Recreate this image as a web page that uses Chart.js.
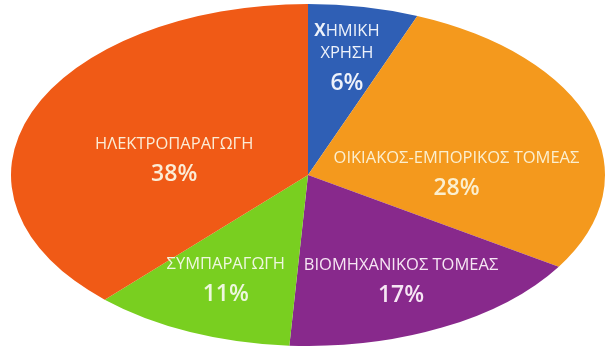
<!DOCTYPE html>
<html>
<head>
<meta charset="utf-8">
<script src="https://cdn.jsdelivr.net/npm/chart.js@4"></script>
<style>
  body { margin: 0; background: #fff; }
  #wrap { width: 608px; height: 351px; position: relative; }
</style>
</head>
<body>
<div id="wrap"><canvas id="pie"></canvas></div>
<script>
// sectors, clockwise from 12 o'clock
const categories = ['ΧΗΜΙΚΗ ΧΡΗΣΗ', 'ΟΙΚΙΑΚΟΣ-ΕΜΠΟΡΙΚΟΣ ΤΟΜΕΑΣ', 'ΒΙΟΜΗΧΑΝΙΚΟΣ ΤΟΜΕΑΣ', 'ΣΥΜΠΑΡΑΓΩΓΗ', 'ΗΛΕΚΤΡΟΠΑΡΑΓΩΓΗ'];
const shares = [6, 28, 17, 11, 38];
const nameLines = [['ΧΗΜΙΚΗ', 'ΧΡΗΣΗ'], ['ΟΙΚΙΑΚΟΣ-ΕΜΠΟΡΙΚΟΣ ΤΟΜΕΑΣ'], ['ΒΙΟΜΗΧΑΝΙΚΟΣ ΤΟΜΕΑΣ'], ['ΣΥΜΠΑΡΑΓΩΓΗ'], ['ΗΛΕΚΤΡΟΠΑΡΑΓΩΓΗ']];

const colors = ['#2f5fb5', '#f4991d', '#88298c', '#79cf20', '#f05a16'];
const textColors = ['#eef2fa', '#fbefcf', '#f6e6f4', '#eef7df', '#fbecd6'];
// where each label block sits: fraction of radius, angle shift (deg) from mid-sector
const labelPlace = [[0.70, 0], [0.50, 17], [0.69, 0], [0.67, 1], [0.46, -10]];

const stretch = 297 / 171; // pie is drawn as a flattened ellipse
const nameFont = '400 16.5px "Open Sans"';
const pctFont = '600 23px "Open Sans"';

const ellipse = {
  id: 'ellipse',
  beforeDatasetsDraw(chart) {
    const a = chart.getDatasetMeta(0).data[0];
    const ctx = chart.ctx;
    ctx.save();
    ctx.translate(a.x, a.y);
    ctx.scale(stretch, 1);
    ctx.translate(-a.x, -a.y);
  },
  afterDatasetsDraw(chart) {
    chart.ctx.restore();
  }
};

const sectorLabels = {
  id: 'sectorLabels',
  afterDraw(chart) {
    const ctx = chart.ctx;
    const arcs = chart.getDatasetMeta(0).data;
    ctx.save();
    ctx.textAlign = 'center';
    ctx.textBaseline = 'middle';
    arcs.forEach((arc, i) => {
      const [rf, shift] = labelPlace[i];
      const mid = (arc.startAngle + arc.endAngle) / 2 + shift * Math.PI / 180;
      const x = arc.x + Math.cos(mid) * arc.outerRadius * rf * stretch;
      const y = arc.y + Math.sin(mid) * arc.outerRadius * rf;
      const lines = nameLines[i];
      const ys = lines.map((_, k) => k * 22);
      ys.push(ys[ys.length - 1] + 30);
      const off = ys[ys.length - 1] / 2;
      ctx.fillStyle = textColors[i];
      lines.forEach((t, k) => {
        const ly = y + ys[k] - off;
        if (i === 0 && k === 0) {
          // first letter of ΧΗΜΙΚΗ is bold in the original
          const bold = '700 17px "Open Sans"';
          ctx.font = bold;
          const w1 = ctx.measureText(t[0]).width;
          ctx.font = nameFont;
          const w2 = ctx.measureText(t.slice(1)).width;
          const left = x - (w1 + w2) / 2;
          ctx.textAlign = 'left';
          ctx.font = bold;
          ctx.fillText(t[0], left, ly);
          ctx.font = nameFont;
          ctx.fillText(t.slice(1), left + w1, ly);
          ctx.textAlign = 'center';
        } else {
          ctx.font = nameFont;
          ctx.fillText(t, x, ly);
        }
      });
      ctx.font = pctFont;
      ctx.fillText(shares[i] + '%', x, y + ys[ys.length - 1] - off);
    });
    ctx.restore();
  }
};

new Chart(document.getElementById('pie'), {
  type: 'pie',
  data: {
    labels: categories,
    datasets: [{
      data: shares,
      backgroundColor: colors,
      borderWidth: 0
    }]
  },
  options: {
    responsive: true,
    maintainAspectRatio: false,
    animation: false,
    layout: { padding: { left: 8, right: 0, top: 4, bottom: 5 } },
    plugins: {
      legend: { display: false },
      tooltip: { enabled: false }
    }
  },
  plugins: [ellipse, sectorLabels]
});
</script>
</body>
</html>
